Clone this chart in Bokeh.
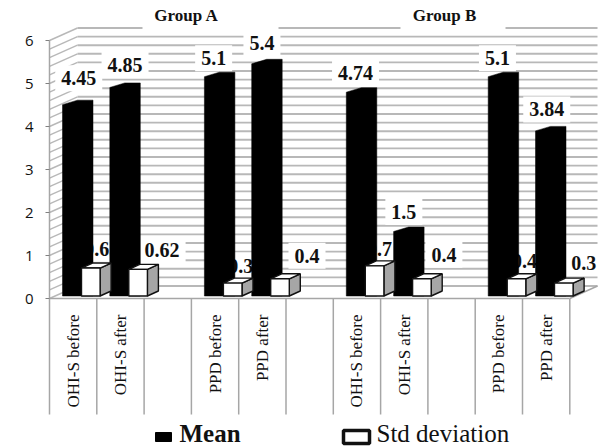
from bokeh.plotting import figure
from bokeh.models import ColumnDataSource, LinearAxis, FixedTicker, Range1d
from bokeh.core.properties import value
from bokeh.embed import file_html
from bokeh.resources import INLINE
import math

categories = ["OHI-S before", "OHI-S after", "PPD before", "PPD after",
              "OHI-S before", "OHI-S after", "PPD before", "PPD after"]
mean_values = [4.45, 4.85, 5.1, 5.4, 4.74, 1.5, 5.1, 3.84]
std_values = [0.65, 0.62, 0.3, 0.4, 0.7, 0.4, 0.4, 0.3]
slots = [0, 1, 3, 4, 6, 7, 9, 10]
y_ticks = [0, 1, 2, 3, 4, 5, 6]
mean_label_dx = [1, 0, -6, -5, -6, -5, -6, -4]
mean_label_dy = [22, 18, 14, 16, 15, 15, 14, 17]
std_label_dx = [11, 24, 8, 27, 5, 22, 8, 20]
std_label_dy = [19.5, 19.5, 17.5, 23, 17, 24, 18, 20.5]

# pixel scale of the reference (window pixels)
X0, SLOT, Y0, UNIT = 49.0, 47.3, 298.0, 43.0
def xp(px): return (px - X0) / SLOT
def yp(py): return (Y0 - py) / UNIT
DX = lambda px: px / SLOT
DY = lambda px: px / UNIT

W, H = 603, 448
p = figure(width=W, height=H, output_backend="svg", toolbar_location=None,
           x_range=Range1d(xp(0), xp(603)), y_range=Range1d(yp(448), yp(0)),
           x_axis_location=None, y_axis_location=None,
           min_border=0, outline_line_color=None, tools="")
p.grid.visible = False

GRID = "#b8b8b8"
SERIF = value("Liberation Serif")

# walls: back gridlines every 0.2 and the slanted lines on the left wall
wall_dx, wall_dy = DX(28), DY(12.5)
grid_v = [i * 0.2 for i in range(31)]
p.segment(x0=[wall_dx] * 31, x1=[xp(597)] * 31,
          y0=[v + wall_dy for v in grid_v], y1=[v + wall_dy for v in grid_v],
          line_color=GRID, line_width=1.9)
p.segment(x0=[0] * 31, x1=[wall_dx] * 31, y0=grid_v,
          y1=[v + wall_dy for v in grid_v], line_color=GRID, line_width=1.4)
p.segment(x0=[11], x1=[xp(597)], y0=[0], y1=[wall_dy], line_color="#a6a6a6", line_width=1.5)

# white boxes of the group titles
p.quad(left=[xp(142), xp(400)], right=[xp(278), xp(505)],
       bottom=[yp(33), yp(33)], top=[yp(20), yp(20)], fill_color="white", line_color=None)

# separators under the axis
p.segment(x0=list(range(12)), x1=list(range(12)), y0=[0] * 12, y1=[yp(414)] * 12,
          line_color="#a6a6a6", line_width=1.5)

x_l = [s + DX(13) for s in slots]
x_c = [x + DX(15.25) for x in x_l]
white_l = [x + DX(19) for x in x_l]
white_r = [x + DX(18.6) for x in white_l]
white_c = [(a + b) / 2 for a, b in zip(white_l, white_r)]
base = DY(2.5)

label_style = dict(text_font=SERIF, text_font_style="bold", text_color="#111111",
                   text_align="center", text_baseline="middle",
                   background_fill_color="white", padding=6)

# std labels sit behind the bars
std_src = ColumnDataSource(dict(x=white_c, y=[v + base for v in std_values],
                                t=[str(v) for v in std_values],
                                dx=std_label_dx, dy=[-d for d in std_label_dy]))
p.text(x="x", y="y", text="t", x_offset="dx", y_offset="dy", text_font_size="20px", source=std_src, **label_style)

# mean labels
mean_src = ColumnDataSource(dict(x=x_c, y=[v + base + DY(4.5) for v in mean_values],
                                 t=[str(v) for v in mean_values],
                                 dx=mean_label_dx, dy=[-d for d in mean_label_dy]))
p.text(x="x", y="y", text="t", x_offset="dx", y_offset="dy", text_font_size="20px", source=mean_src, **label_style)

# mean bars
p.patches(xs=[[l, l, l + DX(15), l + DX(30.5), l + DX(30.5)] for l in x_l],
          ys=[[base, v + base, v + base + DY(4.5), v + base + DY(4.5), base] for v in mean_values],
          fill_color="black", line_color="black", line_width=0.5)

# std bars: side, top, front
sx, sy = DX(11), DY(5)
tops = [v + base for v in std_values]
p.patches(xs=[[r, r + sx, r + sx, r] for r in white_r],
          ys=[[base, base + sy, t + sy, t] for t in tops],
          fill_color="#a6a6a6", line_color="#111111", line_width=1.4)
p.patches(xs=[[l, l + sx, r + sx, r] for l, r in zip(white_l, white_r)],
          ys=[[t, t + sy, t + sy, t] for t in tops],
          fill_color="white", line_color="#111111", line_width=1.4)
p.quad(left=white_l, right=white_r, bottom=[base] * 8, top=tops,
       fill_color="white", line_color="#111111", line_width=1.4)

# axes
ax_y = LinearAxis(fixed_location=0, ticker=FixedTicker(ticks=y_ticks), bounds=(0, 6))
ax_y.axis_line_color = "#a6a6a6"
ax_y.axis_line_width = 1.5
ax_y.major_tick_in = 0
ax_y.major_tick_out = 4
ax_y.major_tick_line_color = "#808080"
ax_y.minor_tick_line_color = None
ax_y.major_label_standoff = 12
ax_y.major_label_text_font = "Open Sans"
ax_y.major_label_text_font_size = "15px"
ax_y.major_label_text_color = "#111111"
p.add_layout(ax_y, "left")

ax_x = LinearAxis(fixed_location=0, ticker=FixedTicker(ticks=[s + 0.5 for s in slots]), bounds=(0, 11))
ax_x.major_label_overrides = {s + 0.5: c for s, c in zip(slots, categories)}
ax_x.major_label_orientation = math.pi / 2
ax_x.axis_line_color = "#a6a6a6"
ax_x.axis_line_width = 1.5
ax_x.major_tick_line_color = None
ax_x.minor_tick_line_color = None
ax_x.major_tick_in = 0
ax_x.major_tick_out = 0
ax_x.major_label_standoff = 16
ax_x.major_label_text_font = "Liberation Serif"
ax_x.major_label_text_font_size = "17px"
ax_x.major_label_text_color = "#111111"
p.add_layout(ax_x, "below")

# group titles
p.text(x=[xp(186), xp(444)], y=[yp(15), yp(15)], text=["Group A", "Group B"],
       text_font=SERIF, text_font_style="bold", text_font_size="17px",
       text_color="#111111", text_align="center", text_baseline="middle")

# legend
p.quad(left=[xp(155)], right=[xp(171)], bottom=[yp(441)], top=[yp(432)], fill_color="black", line_color="black")
p.text(x=[xp(179)], y=[yp(433)], text=["Mean"], text_font=SERIF, text_font_style="bold",
       text_font_size="25px", text_color="#111111", text_baseline="middle")
p.quad(left=[xp(343)], right=[xp(369)], bottom=[yp(443)], top=[yp(430)], fill_color="white",
       line_color="#111111", line_width=3.5)
p.text(x=[xp(376)], y=[yp(433)], text=["Std deviation"], text_font=SERIF,
       text_font_size="25px", text_color="#111111", text_baseline="middle")

open("out.html", "w").write(file_html(p, INLINE))
